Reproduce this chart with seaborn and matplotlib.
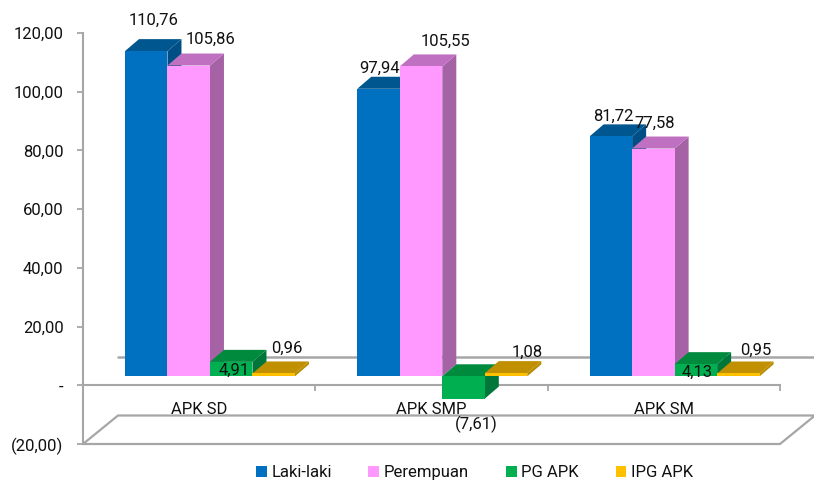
import matplotlib
matplotlib.use("Agg")
import matplotlib.pyplot as plt
import pandas as pd
import seaborn as sns
from matplotlib.patches import Polygon
from matplotlib.ticker import FuncFormatter

categories = ["APK SD", "APK SMP", "APK SM"]
laki_laki = [110.76, 97.94, 81.72]
perempuan = [105.86, 105.55, 77.58]
pg_apk = [4.91, -7.61, 4.13]
ipg_apk = [0.96, 1.08, 0.95]
series_names = ["Laki-laki", "Perempuan", "PG APK", "IPG APK"]
y_ticks = [-20, 0, 20, 40, 60, 80, 100, 120]

W, H = 814, 480
FRONT = ["#0070C0", "#FF99FF", "#00B050", "#FFC000"]
TOP = ["#00568F", "#C070C0", "#008A3E", "#C09000"]
SIDE = ["#004E86", "#A563A5", "#00763A", "#B88A00"]
LINE = "#A6A6A6"
TEXT = "#111111"

sns.set_style("white")
plt.rcParams["font.family"] = ["Roboto", "DejaVu Sans"]
FS = 12


def fmt_axis(v, _=None):
    if abs(v) < 1e-9:
        return "-"
    s = f"{abs(v):.2f}".replace(".", ",")
    return f"({s})" if v < 0 else s


def fmt_label(v):
    s = f"{abs(v):.2f}".replace(".", ",")
    return f"({s})" if v < 0 else s


fig = plt.figure(figsize=(W / 100, H / 100), dpi=100, facecolor="white")

# plot frame in pixels: left, right, top, bottom
L, R, T, B = 83, 780, 33, 444
frame = fig.add_axes([L / W, 1 - B / H, (R - L) / W, (B - T) / H])
frame.set_xlim(0, 3)
frame.set_ylim(-20, 120)
px_x = (R - L) / 3
px_y = (B - T) / 140

# floor and back line of the 3D chart
wall_dx, wall_dy = 35 / px_x, 28.5 / px_y
floor = Polygon(
    [(0, -20), (3, -20), (3 + wall_dx, -20 + wall_dy), (wall_dx, -20 + wall_dy)],
    closed=True, facecolor="white", edgecolor=LINE, lw=1.6, clip_on=False, zorder=1,
)
frame.add_patch(floor)
frame.plot([wall_dx, 3 + wall_dx], [wall_dy, wall_dy], color=LINE, lw=1.8,
           clip_on=False, zorder=1)

for s in ["top", "right"]:
    frame.spines[s].set_visible(False)
frame.spines["left"].set_color(LINE)
frame.spines["left"].set_linewidth(1.5)
frame.spines["bottom"].set_color(LINE)
frame.spines["bottom"].set_linewidth(1.5)
frame.spines["bottom"].set_position(("data", 0))
frame.set_yticks(y_ticks)
frame.yaxis.set_major_formatter(FuncFormatter(fmt_axis))
frame.tick_params(axis="y", length=4.5, width=1.3, color=LINE, pad=9.5, labelsize=FS,
                  labelcolor=TEXT, left=True)
frame.set_xticks([0, 1, 2, 3])
frame.set_xticklabels([])
frame.set_xticks([0.5, 1.5, 2.5], minor=True)
frame.set_xticklabels(categories, minor=True)
frame.tick_params(axis="x", which="major", length=4, width=1.3, color=LINE, bottom=True)
frame.tick_params(axis="x", which="minor", length=0, pad=12, labelsize=FS, labelcolor=TEXT)

# bars sit on a plane shifted right and up from the axis frame
SHIFT_X, SHIFT_Y = 10.8, 9
bars = fig.add_axes([(L + SHIFT_X) / W, 1 - (B - SHIFT_Y) / H, (R - L) / W, (B - T) / H])
bars.patch.set_alpha(0)
bars.set_axis_off()

df = pd.DataFrame({
    "category": categories * 4,
    "series": [n for n in series_names for _ in categories],
    "value": laki_laki + perempuan + pg_apk + ipg_apk,
})
sns.barplot(data=df, x="category", y="value", hue="series", hue_order=series_names,
            order=categories, palette=FRONT, saturation=1, width=170 / px_x, gap=0,
            dodge=True, errorbar=None, ax=bars, legend=True, linewidth=0)
bars.set_xlim(-0.5, 2.5)
bars.set_ylim(-20, 120)
bars.set_axis_off()

depth_x, depth_y = 14 / px_x, 12 / px_y

# label offsets in pixels from each bar's value end, per series then category
OFFSETS = [
    [(7, 31), (1, 20), (2, 20)],
    [(21.5, 26), (24, 25), (1, 25)],
    [(3, -8), (13, -26), (1.5, -8)],
    [(13, 25), (21, 21), (17.5, 23)],
]

for i, cont in enumerate(bars.containers):
    z = 3 + i * 2
    for j, p in enumerate(cont.patches):
        p.set_edgecolor("none")
        p.set_linewidth(0)
        x0, x1 = p.get_x(), p.get_x() + p.get_width()
        y0, y1 = sorted((p.get_y(), p.get_y() + p.get_height()))
        p.set_zorder(z + 1)
        bars.add_patch(Polygon(
            [(x1, y0), (x1 + depth_x, y0 + depth_y), (x1 + depth_x, y1 + depth_y), (x1, y1)],
            closed=True, facecolor=SIDE[i], edgecolor="none", zorder=z, clip_on=False))
        bars.add_patch(Polygon(
            [(x0, y1), (x1, y1), (x1 + depth_x, y1 + depth_y), (x0 + depth_x, y1 + depth_y)],
            closed=True, facecolor=TOP[i], edgecolor="none", zorder=z, clip_on=False))
        v = p.get_y() + p.get_height()
        bars.annotate(fmt_label(v), xy=(p.get_x() + p.get_width() / 2, v),
                      xytext=OFFSETS[i][j], textcoords="offset pixels",
                      ha="center", va="center", fontsize=FS, color=TEXT,
                      zorder=30, annotation_clip=False)

handles, labels = bars.get_legend_handles_labels()
bars.get_legend().remove()
for h in handles:
    h.set_edgecolor("none")
fig.legend(handles, labels, ncol=4, loc="center", bbox_to_anchor=(474.5 / W, 1 - 472.5 / H),
           frameon=False, fontsize=FS, handlelength=0.65, handleheight=0.65,
           handletextpad=0.28, columnspacing=2.2, labelcolor=TEXT,
           borderpad=0, borderaxespad=0)

fig.savefig("out.png", dpi=100, facecolor="white")
